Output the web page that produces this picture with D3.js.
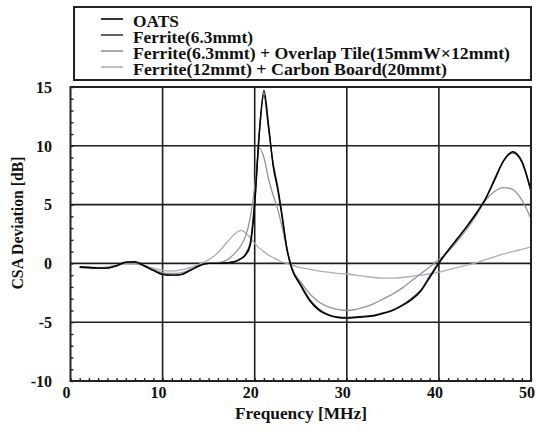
<!DOCTYPE html>
<html>
<head>
<meta charset="utf-8">
<script src="https://cdn.jsdelivr.net/npm/d3@7"></script>
<style>
  html, body { margin: 0; padding: 0; background: #fff; }
  svg { display: block; }
  text { font-family: "Liberation Serif", "DejaVu Serif", serif; font-weight: bold; fill: #111; }
</style>
</head>
<body>
<svg id="chart" width="536" height="442"></svg>
<script>
// Frequency points (MHz), shared by all measured curves
const freq = [1,2,3,4,5,6,7,8,9,10,11,12,13,14,15,16,17,18,18.5,19,19.5,20,20.5,21,21.5,22,22.5,23,23.5,24,
  25,26,27,28,29,30,31,32,33,34,35,36,37,38,39,40,41,42,43,44,45,46,47,48,49,50];

// CSA deviation (dB) per configuration
const oats = [-0.3,-0.35,-0.4,-0.4,-0.2,0.1,0.15,-0.2,-0.6,-0.95,-1.0,-0.95,-0.6,-0.2,0,0,0.05,0.2,0.4,0.7,1.5,5.0,11.0,14.7,11.8,8.3,6.3,3.8,1.2,-0.4,
  -1.9,-3.2,-4.0,-4.4,-4.6,-4.65,-4.6,-4.55,-4.45,-4.25,-4.0,-3.6,-3.1,-2.4,-1.2,0,1.1,2.1,3.1,4.2,5.4,7.0,8.7,9.5,8.7,6.2];
const ferrite63 = [-0.3,-0.35,-0.4,-0.4,-0.2,0.1,0.1,-0.2,-0.6,-0.9,-1.0,-0.95,-0.6,-0.2,0,0,0.05,0.2,0.4,0.8,1.7,5.3,11.2,14.3,11.5,8.5,6.5,4.0,1.3,-0.3,
  -1.8,-3.1,-3.9,-4.35,-4.55,-4.6,-4.55,-4.5,-4.4,-4.2,-3.95,-3.55,-3.0,-2.3,-1.1,0.1,1.1,2.1,3.1,4.2,5.4,7.1,8.7,9.4,8.6,6.1];
const overlapTile = [-0.35,-0.4,-0.4,-0.35,-0.2,0,0,-0.2,-0.5,-0.8,-0.85,-0.8,-0.5,-0.15,0,0.05,0.3,1.0,1.5,2.3,3.8,6.5,9.8,9.0,7.2,5.8,4.6,3.0,1.2,-0.3,
  -1.6,-2.6,-3.3,-3.7,-3.9,-4.0,-3.9,-3.7,-3.4,-3.0,-2.6,-2.1,-1.5,-0.9,-0.3,0.3,1.0,1.9,2.9,4.0,5.3,6.1,6.45,6.3,5.4,3.8];
const carbonBoard = [-0.3,-0.3,-0.35,-0.3,-0.15,-0.05,-0.05,-0.2,-0.4,-0.6,-0.65,-0.55,-0.35,-0.05,0.3,0.9,1.8,2.6,2.8,2.6,2.2,1.7,1.3,1.0,0.7,0.5,0.3,0.1,0,-0.15,
  -0.35,-0.5,-0.65,-0.75,-0.85,-0.9,-1.0,-1.1,-1.2,-1.25,-1.25,-1.2,-1.1,-1.0,-0.9,-0.75,-0.55,-0.35,-0.15,0.05,0.3,0.55,0.8,1.0,1.2,1.4];

const seriesNames = ["OATS", "Ferrite(6.3mmt)", "Ferrite(6.3mmt) + Overlap Tile(15mmW×12mmt)", "Ferrite(12mmt) + Carbon Board(20mmt)"];
const seriesValues = [oats, ferrite63, overlapTile, carbonBoard];
const seriesColors = ["#000000", "#3a3a3a", "#8d969c", "#a9b0b5"];
const legendWidths = [46, 120, 377, 314];

const xTicks = [0, 10, 20, 30, 40, 50];
const yTicks = [-10, -5, 0, 5, 10, 15];

const svg = d3.select("#chart");
const plotLeft = 70.5, plotRight = 531, plotTop = 87, plotBottom = 381;

const x = d3.scaleLinear().domain([0, 50]).range([plotLeft, plotRight]);
const y = d3.scaleLinear().domain([-10, 15]).range([plotBottom, plotTop]);

// gridlines
const grid = svg.append("g");
grid.selectAll("line.v").data(xTicks.slice(1, -1)).enter().append("line")
  .attr("x1", d => x(d)).attr("x2", d => x(d)).attr("y1", plotTop).attr("y2", plotBottom)
  .attr("stroke", "#1e1e1e").attr("stroke-width", 1.6);
grid.selectAll("line.h").data(yTicks.slice(1, -1)).enter().append("line")
  .attr("y1", d => y(d)).attr("y2", d => y(d)).attr("x1", plotLeft).attr("x2", plotRight)
  .attr("stroke", "#1e1e1e").attr("stroke-width", 1.6);

// minor inward ticks on the left and bottom axes
const yAxis = d3.axisRight(y).tickValues(d3.range(-10, 15.01, 1)).tickSize(3).tickFormat("");
svg.append("g").attr("transform", `translate(${plotLeft},0)`).call(yAxis)
  .call(g => g.select(".domain").remove())
  .call(g => g.selectAll("line").attr("stroke", "#222").attr("stroke-width", 1.4));
const xAxis = d3.axisTop(x).tickValues(d3.range(0, 50.01, 1)).tickSize(3).tickFormat("");
svg.append("g").attr("transform", `translate(0,${plotBottom})`).call(xAxis)
  .call(g => g.select(".domain").remove())
  .call(g => g.selectAll("line").attr("stroke", "#222").attr("stroke-width", 1.4));

// curves
const line = d3.line().x((d, i) => x(freq[i])).y(d => y(d)).curve(d3.curveMonotoneX);
const order = [3, 2, 1, 0];
svg.append("g").selectAll("path").data(order).enter().append("path")
  .attr("d", k => line(seriesValues[k]))
  .attr("fill", "none")
  .attr("stroke", k => seriesColors[k])
  .attr("stroke-width", k => k < 2 ? 1.4 : 1.3);

// plot frame
svg.append("rect").attr("x", plotLeft).attr("y", plotTop).attr("width", plotRight - plotLeft).attr("height", plotBottom - plotTop)
  .attr("fill", "none").attr("stroke", "#222").attr("stroke-width", 2);

// tick labels
svg.append("g").selectAll("text").data(yTicks).enter().append("text")
  .attr("x", 52).attr("y", d => y(d)).attr("dy", "0.36em")
  .attr("text-anchor", "end").attr("font-size", 16).text(d => d);
svg.append("g").selectAll("text").data(xTicks).enter().append("text")
  .attr("x", d => x(d) - 4).attr("y", 398)
  .attr("text-anchor", "middle").attr("font-size", 16).text(d => d);

// axis titles
svg.append("text").attr("x", 301).attr("y", 419).attr("text-anchor", "middle")
  .attr("font-size", 16).attr("textLength", 132).attr("lengthAdjust", "spacingAndGlyphs")
  .text("Frequency [MHz]");
svg.append("text").attr("transform", "translate(23,223) rotate(-90)").attr("text-anchor", "middle")
  .attr("font-size", 16).attr("textLength", 133).attr("lengthAdjust", "spacingAndGlyphs")
  .text("CSA Deviation [dB]");

// legend
svg.append("rect").attr("x", 74).attr("y", 7).attr("width", 457).attr("height", 73)
  .attr("fill", "#fff").attr("stroke", "#222").attr("stroke-width", 2);
const leg = svg.append("g").selectAll("g").data(seriesNames).enter().append("g")
  .attr("transform", (d, i) => `translate(0,${27 + i * 16})`);
leg.append("line").attr("x1", 101).attr("x2", 123).attr("y1", -8).attr("y2", -8)
  .attr("stroke", (d, i) => seriesColors[i]).attr("stroke-width", 1.6);
leg.append("text").attr("x", 133).attr("y", 0).attr("font-size", 16)
  .attr("textLength", (d, i) => legendWidths[i]).attr("lengthAdjust", "spacingAndGlyphs")
  .text(d => d);
</script>
</body>
</html>
